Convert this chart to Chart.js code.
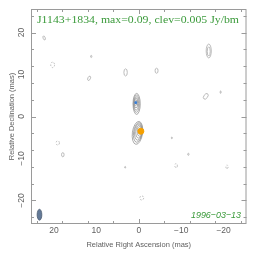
<!DOCTYPE html>
<html>
<head>
<meta charset="utf-8">
<script src="https://cdn.jsdelivr.net/npm/chart.js@4.4.0/dist/chart.umd.min.js"></script>
<style>
  html, body { margin: 0; padding: 0; background: #fff; }
  #wrap { width: 264px; height: 262px; }
</style>
</head>
<body>
<div id="wrap"><canvas id="map"></canvas></div>
<script>
    // Contours (RA/Dec in mas, semi-axes in mas, tilt in deg, neg = dashed)
    const contourRA  = [0.5, 0.55, 0.6, 0.65, 0.7,
                        0.3, 0.2, 0.1, -0.05, -0.25, -0.4,
                        22.3, 20.3, 11.2, 11.7, 3.1, -4.2, -16.5, -16.5, -15.8, -19.3,
                        19.1, 17.9, 3.2, -7.8, -11.7, -8.8, -20.8, -0.7];
    const contourDec = [3.0, 3.05, 3.1, 3.2, 3.3,
                        -3.9, -3.8, -3.7, -3.6, -3.55, -3.5,
                        18.7, 12.3, 14.3, 9.1, 10.5, 10.9, 15.6, 15.5, 4.8, 5.8,
                        -6.3, -9.1, -12.1, -5.1, -9.0, -11.7, -12.0, -19.4];
    const contourA   = [0.85, 0.7, 0.55, 0.4, 0.25,
                        1.2, 1.02, 0.88, 0.75, 0.6, 0.45,
                        0.25, 0.45, 0.15, 0.3, 0.4, 0.35, 0.6, 0.35, 0.45, 0.12,
                        0.4, 0.3, 0.12, 0.12, 0.15, 0.3, 0.25, 0.45];
    const contourB   = [2.5, 2.05, 1.6, 1.15, 0.7,
                        2.75, 2.35, 1.95, 1.55, 1.15, 0.8,
                        0.5, 0.65, 0.25, 0.55, 0.85, 0.6, 1.65, 1.1, 0.75, 0.3,
                        0.5, 0.5, 0.2, 0.2, 0.25, 0.5, 0.45, 0.5];
    const contourTilt = [0, 0, 0, 0, 0,
                         8, 8, 6, 5, 0, 0,
                         -20, 0, 0, 25, 0, 0, 0, 0, 35, 0,
                         0, 0, 0, 0, 0, 0, 0, 0];
    const contourNeg = [0, 0, 0, 0, 0,
                        0, 0, 0, 0, 0, 0,
                        0, 1, 0, 0, 0, 0, 0, 0, 0, 0,
                        1, 0, 0, 0, 0, 1, 1, 1];

    // Model components
    const coreRA = [-0.5];
    const coreDec = [-3.5];
    const knotRA = [0.7];
    const knotDec = [3.3];

    // Restoring beam
    const beamRA = 23.4, beamDec = -23.4, beamA = 0.55, beamB = 1.3;

    const tickValues = [-20, -10, 0, 10, 20];

    function fmt(v) {
      return v < 0 ? '\u2212' + Math.abs(v) : String(v);
    }

    // draw text stretched to a given width
    function fitText(ctx, text, x, y, width, size, family, style) {
      ctx.font = (style || '') + ' ' + size + 'px ' + family;
      const w = ctx.measureText(text).width;
      const s = width / w;
      ctx.save();
      ctx.translate(x, y);
      ctx.scale(s, 1);
      ctx.fillText(text, 0, 0);
      ctx.restore();
    }

    const mapPlugin = {
      id: 'mapPlugin',
      beforeDatasetsDraw(chart) {
        const ctx = chart.ctx;
        const xs = chart.scales.x, ys = chart.scales.y;
        const pxPerX = Math.abs(xs.getPixelForValue(1) - xs.getPixelForValue(0));
        const pxPerY = Math.abs(ys.getPixelForValue(1) - ys.getPixelForValue(0));
        ctx.save();
        for (let i = 0; i < contourRA.length; i++) {
          const cx = xs.getPixelForValue(contourRA[i]);
          const cy = ys.getPixelForValue(contourDec[i]);
          ctx.beginPath();
          ctx.ellipse(cx, cy, contourA[i] * pxPerX, contourB[i] * pxPerY,
                      contourTilt[i] * Math.PI / 180, 0, Math.PI * 2);
          ctx.strokeStyle = i < 11 ? '#959595' : '#ababab';
          ctx.lineWidth = 0.8;
          ctx.setLineDash(contourNeg[i] ? [1.5, 1.5] : []);
          ctx.stroke();
        }
        ctx.setLineDash([]);
        // beam
        ctx.beginPath();
        ctx.ellipse(xs.getPixelForValue(beamRA), ys.getPixelForValue(beamDec),
                    beamA * pxPerX, beamB * pxPerY, 0, 0, Math.PI * 2);
        ctx.fillStyle = '#647a98';
        ctx.fill();
        ctx.strokeStyle = '#4a5a70';
        ctx.lineWidth = 0.8;
        ctx.stroke();
        ctx.restore();
      },
      afterDraw(chart) {
        const ctx = chart.ctx;
        const a = chart.chartArea;
        const xs = chart.scales.x, ys = chart.scales.y;
        ctx.save();
        // frame
        ctx.strokeStyle = '#9a9a9a';
        ctx.lineWidth = 1;
        ctx.strokeRect(a.left + 0.5, a.top + 0.5, a.right - a.left - 1, a.bottom - a.top - 1);
        // inward ticks on all sides
        ctx.beginPath();
        xs.ticks.forEach(t => {
          const p = Math.round(xs.getPixelForValue(t.value)) + 0.5;
          const len = t.value % 10 === 0 ? 5 : 3;
          ctx.moveTo(p, a.bottom); ctx.lineTo(p, a.bottom - len);
          ctx.moveTo(p, a.top); ctx.lineTo(p, a.top + len);
        });
        ys.ticks.forEach(t => {
          const p = Math.round(ys.getPixelForValue(t.value)) + 0.5;
          const len = t.value % 10 === 0 ? 5 : 3;
          ctx.moveTo(a.left, p); ctx.lineTo(a.left + len, p);
          ctx.moveTo(a.right, p); ctx.lineTo(a.right - len, p);
        });
        ctx.stroke();

        // tick labels
        ctx.fillStyle = '#606060';
        ctx.font = '8.5px "Liberation Sans", sans-serif';
        ctx.textAlign = 'center';
        ctx.textBaseline = 'middle';
        tickValues.forEach(v => {
          ctx.fillText(fmt(v), xs.getPixelForValue(v), a.bottom + 7);
        });
        tickValues.forEach(v => {
          ctx.save();
          ctx.translate(a.left - 9, ys.getPixelForValue(v));
          ctx.rotate(-Math.PI / 2);
          ctx.fillText(fmt(v), 0, 0);
          ctx.restore();
        });

        // axis titles
        ctx.fillStyle = '#606060';
        ctx.font = '7.5px "Liberation Sans", sans-serif';
        ctx.fillText('Relative Right Ascension (mas)', (a.left + a.right) / 2, 245);
        ctx.save();
        ctx.translate(12, (a.top + a.bottom) / 2);
        ctx.rotate(-Math.PI / 2);
        ctx.fillText('Relative Declination (mas)', 0, 0);
        ctx.restore();

        // title and epoch
        ctx.fillStyle = '#3a9a3a';
        ctx.textAlign = 'left';
        fitText(ctx, 'J1143+1834, max=0.09, clev=0.005 Jy/bm', 37, 20.5, 202, 10.5, '"Liberation Serif", serif');
        fitText(ctx, '1996\u221203\u221213', 191, 215.5, 50, 9.5, '"Liberation Sans", sans-serif', 'italic');
        ctx.restore();
      }
    };

    const ctx = document.getElementById('map').getContext('2d');
    const mapChart = new Chart(ctx, {
      type: 'scatter',
      data: {
        datasets: [{
          data: coreRA.map((x, i) => ({ x: x, y: coreDec[i] })),
          backgroundColor: '#f5a000',
          borderColor: '#f5a000',
          pointRadius: 3,
          pointStyle: 'circle'
        }, {
          data: knotRA.map((x, i) => ({ x: x, y: knotDec[i] })),
          backgroundColor: '#3a7fd5',
          borderColor: '#3a7fd5',
          pointRadius: 1.2,
          pointStyle: 'rect'
        }]
      },
      options: {
        responsive: true,
        maintainAspectRatio: false,
        animation: false,
        events: [],
        layout: { padding: { left: 31, right: 17.5, top: 9, bottom: 38 } },
        plugins: {
          legend: { display: false },
          tooltip: { enabled: false }
        },
        scales: {
          x: {
            type: 'linear',
            display: false,
            reverse: true,
            min: -25.4,
            max: 25.4,
            ticks: { stepSize: 2, includeBounds: false }
          },
          y: {
            type: 'linear',
            display: false,
            min: -25.6,
            max: 25.6,
            ticks: { stepSize: 2, includeBounds: false }
          }
        }
      },
      plugins: [mapPlugin]
    });
</script>
</body>
</html>
